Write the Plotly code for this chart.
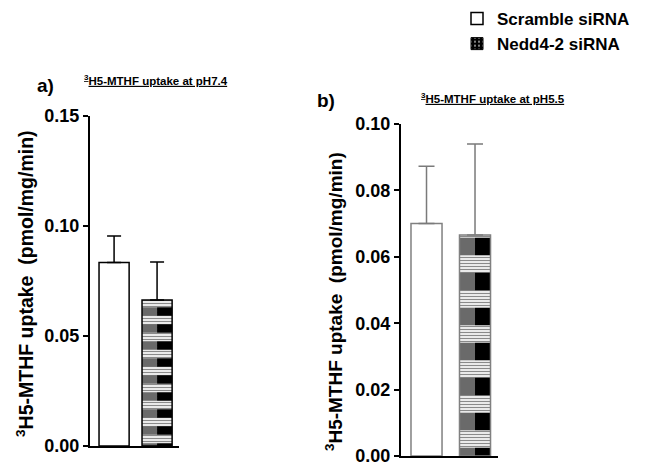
import plotly.graph_objects as go

# ---------------- data ----------------
categories = ["Scramble siRNA", "Nedd4-2 siRNA"]
ph74_mean = [0.0834, 0.0664]
ph74_sem = [0.0120, 0.0172]
ph55_mean = [0.0700, 0.0666]
ph55_sem = [0.0173, 0.0274]
yticks_a = [0.00, 0.05, 0.10, 0.15]
yticks_b = [0.00, 0.02, 0.04, 0.06, 0.08, 0.10]
ytitle = "<sup>3</sup>H5-MTHF uptake\u00a0\u00a0(pmol/mg/min)"
subtitle_a = "<u><sup>3</sup>H5-MTHF uptake at pH7.4</u>"
subtitle_b = "<u><sup>3</sup>H5-MTHF uptake at pH5.5</u>"

W, H = 646, 469
PAGE_OFF = 8  # default body margin of the html page
FONT = "Liberation Sans, Arial, sans-serif"

fig = go.Figure()


def add_panel(xa, ya, means, sems, bw, block, edge, errc, cap, legend):
    # Scramble (white bar)
    fig.add_trace(go.Bar(
        x=[categories[0]], y=[means[0]], width=bw, xaxis=xa, yaxis=ya,
        name=categories[0], showlegend=legend, legendgroup="s",
        marker=dict(color="white", line=dict(color=edge, width=1.5)),
        error_y=dict(type="data", symmetric=False, array=[sems[0]],
                     arrayminus=[0], color=errc, thickness=1.5, width=cap),
    ))
    # Nedd4-2: base with fine horizontal stripes
    fig.add_trace(go.Bar(
        x=[categories[1]], y=[means[1]], width=bw, xaxis=xa, yaxis=ya,
        showlegend=False, legendgroup="n",
        marker=dict(color="white", line=dict(width=0),
                    pattern=dict(shape="-", fgcolor="#8a8a8a", bgcolor="white",
                                 size=3, solidity=0.45)),
        error_y=dict(type="data", symmetric=False, array=[sems[1]],
                     arrayminus=[0], color=errc, thickness=1.5, width=cap),
    ))
    # left half: checker blocks (approximated as gray bands)
    fig.add_trace(go.Bar(
        x=[categories[1]], y=[means[1]], width=bw / 2, offset=-bw / 2,
        xaxis=xa, yaxis=ya, showlegend=False, legendgroup="n",
        marker=dict(color="#6a6a6a", line=dict(width=0),
                    pattern=dict(shape="-", size=block, solidity=0.5)),
    ))
    # right half: black blocks
    fig.add_trace(go.Bar(
        x=[categories[1]], y=[means[1]], width=bw / 2, offset=0,
        xaxis=xa, yaxis=ya, showlegend=False, legendgroup="n",
        marker=dict(color="black", line=dict(width=0),
                    pattern=dict(shape="-", size=block, solidity=0.5)),
    ))
    # outline
    fig.add_trace(go.Bar(
        x=[categories[1]], y=[means[1]], width=bw, xaxis=xa, yaxis=ya,
        showlegend=False, legendgroup="n",
        marker=dict(color="rgba(0,0,0,0)", line=dict(color=edge, width=1.5)),
    ))


add_panel("x", "y", ph74_mean, ph74_sem, 0.70, 17, "black", "black", 7, True)
add_panel("x2", "y2", ph55_mean, ph55_sem, 0.64, 35, "#808080", "#7a7a7a", 8, False)

# legend entry for the patterned series
fig.add_trace(go.Bar(
    x=[None], y=[None], xaxis="x", yaxis="y", name=categories[1],
    legendgroup="n2",
    marker=dict(color="black", line=dict(color="black", width=1),
                pattern=dict(shape=".", fgcolor="white", bgcolor="black",
                             size=5, solidity=0.15)),
))


def px_x(p):
    return (p - PAGE_OFF) / W


def px_y(p):
    return 1 - (p - PAGE_OFF) / H


axis_common = dict(showgrid=False, zeroline=False, showline=True,
                   linecolor="black", linewidth=2, fixedrange=True,
                   automargin=False)

fig.update_layout(
    template="none",
    width=W, height=H,
    margin=dict(l=0, r=0, t=0, b=0, pad=0, autoexpand=False),
    paper_bgcolor="white", plot_bgcolor="white",
    barmode="overlay",
    font=dict(family=FONT, color="black"),
    xaxis=dict(domain=[px_x(90), px_x(179)], range=[-0.56, 1.51],
               type="category", categoryorder="array", categoryarray=categories,
               showticklabels=False, ticks="", anchor="y", **axis_common),
    yaxis=dict(domain=[px_y(446), px_y(116)], range=[0, 0.15],
               tickvals=yticks_a, ticktext=[f"{v:.2f}" for v in yticks_a],
               ticks="outside", ticklen=5, tickwidth=1.5, tickcolor="black",
               tickfont=dict(family=FONT, size=18, weight="bold"),
               anchor="x", **axis_common),
    xaxis2=dict(domain=[px_x(401), px_x(498)], range=[-0.526, 1.474],
                type="category", categoryorder="array", categoryarray=categories,
                showticklabels=False, ticks="", anchor="y2", **axis_common),
    yaxis2=dict(domain=[px_y(456), px_y(124)], range=[0, 0.10],
                tickvals=yticks_b, ticktext=[f"{v:.2f}" for v in yticks_b],
                ticks="outside", ticklen=5, tickwidth=1.5, tickcolor="black",
                tickfont=dict(family=FONT, size=18, weight="bold"),
                anchor="x2", **axis_common),
    legend=dict(x=px_x(457), y=1.015, xanchor="left", yanchor="top",
                bgcolor="rgba(0,0,0,0)", borderwidth=0,
                font=dict(family=FONT, size=17, weight="bold"),
                tracegroupgap=0, traceorder="normal"),
    annotations=[
        dict(text="a)", x=px_x(35), y=px_y(85), xref="paper", yref="paper",
             xanchor="left", yanchor="middle", showarrow=False,
             font=dict(family=FONT, size=19, weight="bold")),
        dict(text="b)", x=px_x(315), y=px_y(100), xref="paper", yref="paper",
             xanchor="left", yanchor="middle", showarrow=False,
             font=dict(family=FONT, size=19, weight="bold")),
        dict(text=subtitle_a, x=px_x(82), y=px_y(80), xref="paper", yref="paper",
             xanchor="left", yanchor="middle", showarrow=False,
             font=dict(family=FONT, size=11.5, weight="bold")),
        dict(text=subtitle_b, x=px_x(419), y=px_y(98), xref="paper", yref="paper",
             xanchor="left", yanchor="middle", showarrow=False,
             font=dict(family=FONT, size=11.5, weight="bold")),
        dict(text=ytitle, x=px_x(25), y=px_y(284), xref="paper", yref="paper",
             xanchor="center", yanchor="middle", textangle=-90, showarrow=False,
             font=dict(family=FONT, size=19.5, weight="bold")),
        dict(text=ytitle, x=px_x(334), y=px_y(302), xref="paper", yref="paper",
             xanchor="center", yanchor="middle", textangle=-90, showarrow=False,
             font=dict(family=FONT, size=19, weight="bold")),
    ],
)

fig.write_html("out.html")
